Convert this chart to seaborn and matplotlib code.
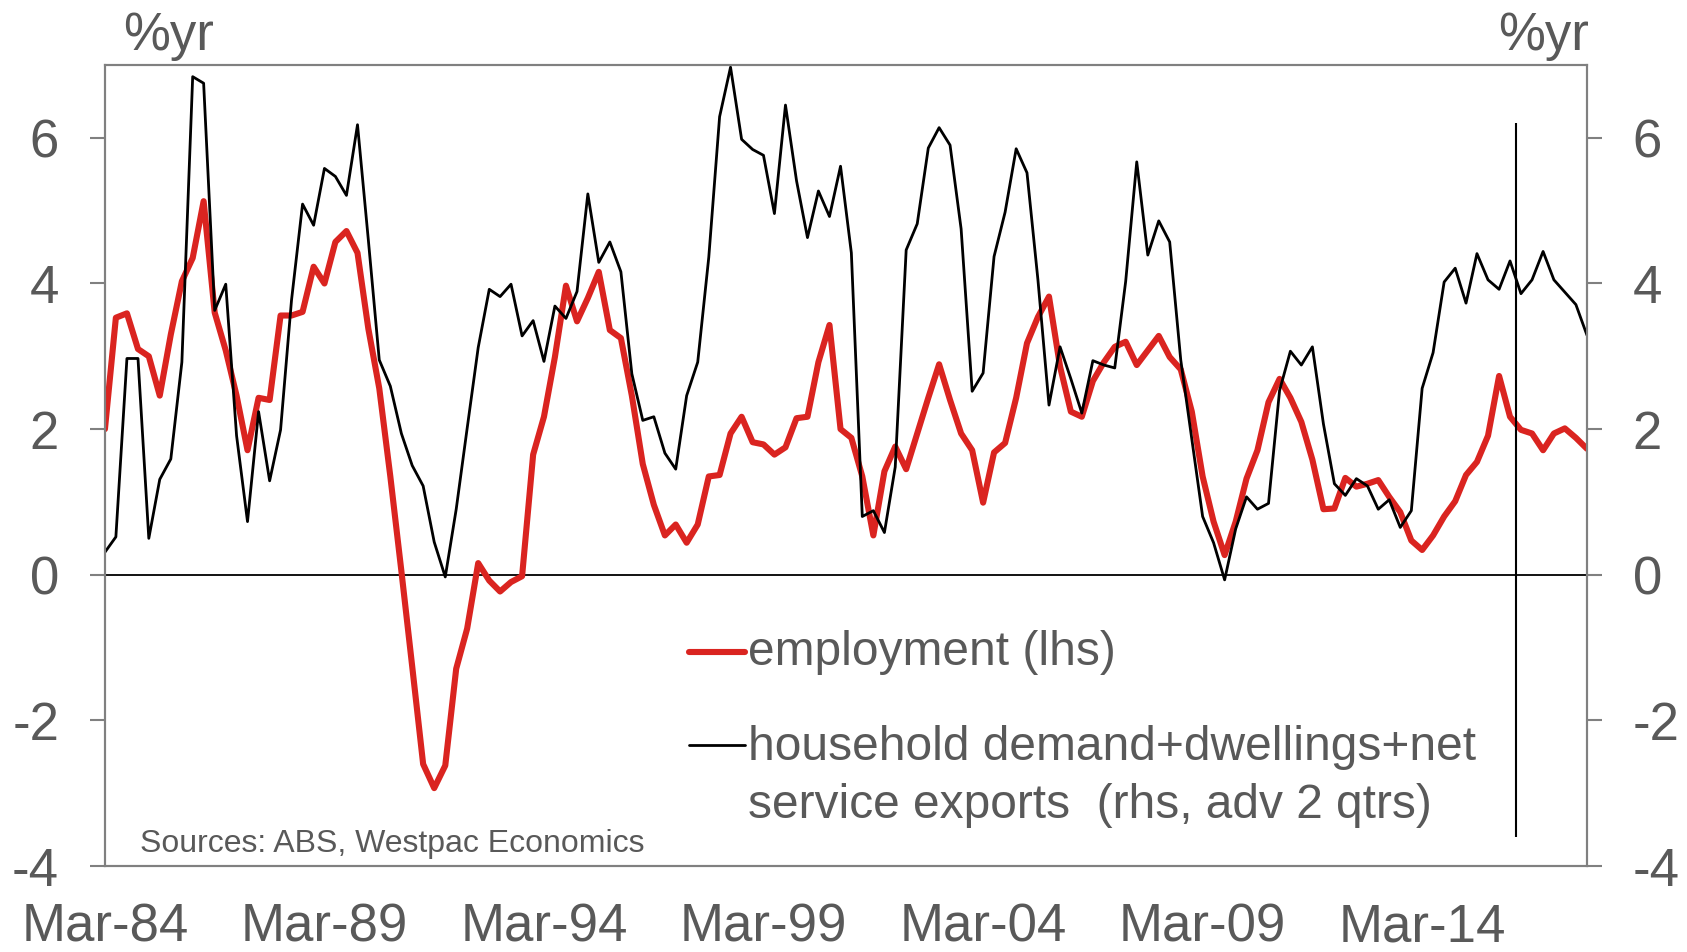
import pandas as pd
import seaborn as sns
import matplotlib.pyplot as plt
import matplotlib.dates as mdates

# Quarterly data, Mar-84 to Dec-17 (% yr)
first_quarter = "1984-03-31"

employment = [
    2.00, 3.53, 3.59, 3.10, 3.00, 2.46, 3.30, 4.03, 4.35, 5.13,
    3.60, 3.08, 2.46, 1.71, 2.43, 2.40, 3.56, 3.56, 3.61, 4.23,
    4.00, 4.57, 4.72, 4.42, 3.38, 2.56, 1.35, 0.05, -1.26, -2.60,
    -2.93, -2.62, -1.29, -0.74, 0.16, -0.08, -0.23, -0.10, -0.02, 1.65,
    2.17, 2.99, 3.97, 3.48, 3.80, 4.16, 3.36, 3.25, 2.46, 1.52,
    0.96, 0.54, 0.69, 0.44, 0.69, 1.35, 1.37, 1.94, 2.17, 1.82,
    1.79, 1.65, 1.75, 2.15, 2.17, 2.92, 3.43, 2.00, 1.88, 1.35,
    0.54, 1.42, 1.76, 1.45, 1.94, 2.43, 2.89, 2.40, 1.94, 1.71,
    0.99, 1.68, 1.81, 2.43, 3.18, 3.54, 3.82, 2.86, 2.24, 2.17,
    2.66, 2.92, 3.13, 3.20, 2.88, 3.08, 3.28, 2.99, 2.82, 2.24,
    1.35, 0.73, 0.27, 0.73, 1.32, 1.71, 2.37, 2.69, 2.43, 2.10,
    1.58, 0.90, 0.91, 1.33, 1.21, 1.25, 1.30, 1.07, 0.86, 0.47,
    0.34, 0.54, 0.80, 1.01, 1.37, 1.55, 1.91, 2.73, 2.17, 1.99,
    1.94, 1.71, 1.94, 2.01, 1.88, 1.73,
]

demand = [
    0.31, 0.52, 2.97, 2.97, 0.50, 1.31, 1.59, 2.92, 6.84, 6.75,
    3.63, 3.99, 1.91, 0.73, 2.24, 1.29, 1.99, 3.77, 5.09, 4.80,
    5.58, 5.47, 5.21, 6.18, 4.60, 2.95, 2.59, 1.94, 1.50, 1.22,
    0.45, -0.03, 0.90, 2.01, 3.12, 3.92, 3.82, 3.99, 3.28, 3.49,
    2.93, 3.69, 3.52, 3.89, 5.23, 4.29, 4.57, 4.16, 2.76, 2.12,
    2.17, 1.67, 1.45, 2.46, 2.92, 4.36, 6.29, 6.97, 5.98, 5.84,
    5.76, 4.96, 6.45, 5.41, 4.63, 5.27, 4.92, 5.61, 4.42, 0.80,
    0.88, 0.58, 1.48, 4.46, 4.82, 5.86, 6.14, 5.90, 4.75, 2.52,
    2.77, 4.37, 4.98, 5.85, 5.52, 4.05, 2.33, 3.13, 2.69, 2.22,
    2.94, 2.88, 2.84, 4.03, 5.67, 4.39, 4.86, 4.57, 2.95, 1.86,
    0.80, 0.44, -0.07, 0.63, 1.07, 0.90, 0.98, 2.53, 3.07, 2.88,
    3.13, 2.07, 1.25, 1.09, 1.32, 1.22, 0.90, 1.03, 0.65, 0.88,
    2.56, 3.05, 4.02, 4.21, 3.73, 4.41, 4.05, 3.92, 4.31, 3.86,
    4.05, 4.44, 4.05, 3.88, 3.71, 3.29,
]

y_ticks = [-4, -2, 0, 2, 4, 6]
forecast_date = "2016-05-20"
forecast_span = (-3.6, 6.2)

employment_label = "employment (lhs)"
demand_label = "household demand+dwellings+net\nservice exports  (rhs, adv 2 qtrs)"
source_note = "Sources: ABS, Westpac Economics"
unit_label = "%yr"

RED = "#DA2420"
GREY_TEXT = "#595959"
GREY_AXIS = "#808080"

quarters = pd.date_range(first_quarter, periods=len(employment), freq="QE")
df = pd.DataFrame({"date": quarters, "employment": employment, "demand": demand})

sns.set_style("white")
plt.rcParams["font.family"] = ["Liberation Sans", "DejaVu Sans"]
plt.rcParams["axes.unicode_minus"] = False

fig = plt.figure(figsize=(16.87, 9.52), dpi=100)
ax = fig.add_axes([0.0622, 0.0903, 0.8785, 0.8414])
ax2 = ax.twinx()

ax.axhline(0, color="black", lw=1.3, zorder=1)
sns.lineplot(data=df, x="date", y="employment", ax=ax, color=RED, lw=4.4)
sns.lineplot(data=df, x="date", y="demand", ax=ax2, color="black", lw=2.0)
ax2.vlines(pd.Timestamp(forecast_date), *forecast_span, color="black", lw=1.5)

for a in (ax, ax2):
    a.set_ylim(-4, 7)
    a.set_yticks(y_ticks)
    a.set_ylabel("")
    a.set_xlabel("")
    for s in a.spines.values():
        s.set_color(GREY_AXIS)
        s.set_linewidth(1.5)
    a.tick_params(axis="y", direction="out", length=11, width=1.5,
                  color=GREY_AXIS, labelcolor=GREY_TEXT, labelsize=38, pad=22)

ax.set_xlim(quarters[0], quarters[-1])
ax.set_xticks(quarters[::20])
ax.xaxis.set_major_formatter(mdates.DateFormatter("%b-%y"))
ax.tick_params(axis="x", direction="out", length=11, width=1.5,
               color=GREY_AXIS, labelcolor=GREY_TEXT, labelsize=38, pad=15)
ax.tick_params(axis="y", left=True, right=False)
ax2.tick_params(axis="y", right=True, left=False)

# unit labels above the axes
fig.text(0.1002, 0.962, unit_label, ha="center", va="center", fontsize=38, color=GREY_TEXT)
fig.text(0.9152, 0.962, unit_label, ha="center", va="center", fontsize=38, color=GREY_TEXT)

# legend, drawn by hand so the black key sits on the first text line
ax2.plot([0.394, 0.432], [0.267, 0.267], transform=ax2.transAxes,
         color=RED, lw=4.4, solid_capstyle="round")
ax2.text(0.434, 0.266, employment_label, transform=ax2.transAxes,
         ha="left", va="center", fontsize=34.5, color=GREY_TEXT)
ax2.plot([0.394, 0.432], [0.151, 0.151], transform=ax2.transAxes,
         color="black", lw=2.0)
ax2.text(0.434, 0.1116, demand_label, transform=ax2.transAxes,
         ha="left", va="center", fontsize=34.5, color=GREY_TEXT, linespacing=1.37)

ax2.text(0.0236, 0.028, source_note, transform=ax2.transAxes,
         ha="left", va="center", fontsize=23, color=GREY_TEXT)

fig.savefig("out.png", dpi=100)
